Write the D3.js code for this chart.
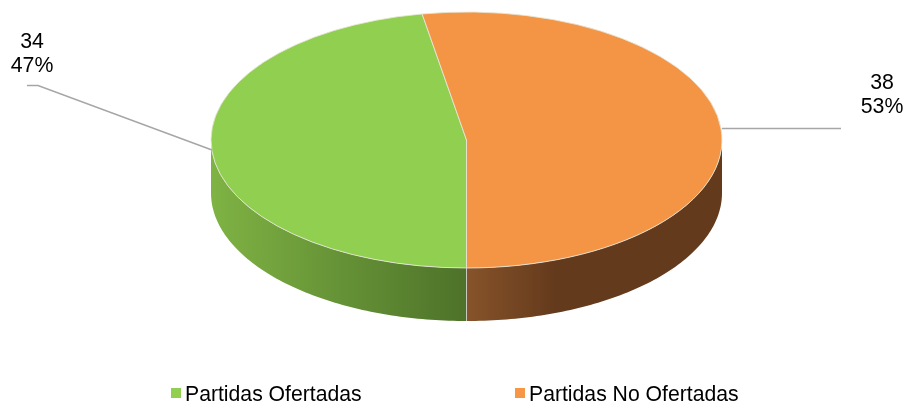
<!DOCTYPE html>
<html><head><meta charset="utf-8">
<script src="https://cdn.jsdelivr.net/npm/d3@7"></script>
<style>html,body{margin:0;background:#fff}svg{display:block;filter:blur(0.4px)}text{font-family:"Liberation Sans",Arial,sans-serif;fill:#000}</style>
</head><body><svg id="c" width="908" height="405"></svg>
<script>
const categories = ["Partidas Ofertadas", "Partidas No Ofertadas"];
const values = [34, 38];
const percents = ["47%", "53%"];
const topColors = ["#91cf50", "#f49546"];
const legendColors = ["#91cf50", "#f79646"];
const sideStops = [
  [["0%", "#7fb344"], ["100%", "#4d7229"]],
  [["0%", "#87532a"], ["35%", "#643a1c"], ["100%", "#643a1c"]]
];

const W = 908, cx = 466.5, cy = 140, rx = 255.5, ry = 128, depth = 53;
const svg = d3.select("#c");
const defs = svg.append("defs");

const pie = d3.pie().sort(null).startAngle(Math.PI).endAngle(3 * Math.PI);
const arcs = pie(values);
const px = a => cx + rx * Math.sin(a);
const py = a => cy - ry * Math.cos(a);

// visible front rim, each slice clipped to the lower half of the ellipse
const line = d3.line();
const rimPath = (a0, a1) => {
  const n = 90, s = d3.range(n + 1).map(i => a0 + (a1 - a0) * i / n);
  const upper = s.map(a => [px(a), py(a)]);
  const lower = s.slice().reverse().map(a => [px(a), py(a) + depth]);
  return line(upper.concat(lower)) + "Z";
};
const rims = [[Math.PI, 1.5 * Math.PI], [Math.PI / 2, Math.PI]];
rims.forEach((r, i) => {
  const xs = [px(r[0]), px(r[1])];
  const g = defs.append("linearGradient").attr("id", "side" + i)
    .attr("gradientUnits", "userSpaceOnUse").attr("y1", 0).attr("y2", 0)
    .attr("x1", i === 0 ? Math.min(...xs) : cx).attr("x2", i === 0 ? cx : Math.max(...xs));
  sideStops[i].forEach(st => g.append("stop").attr("offset", st[0]).attr("stop-color", st[1]));
  svg.append("path").attr("d", rimPath(r[0], r[1])).attr("fill", `url(#side${i})`);
});
// seam of the two rim segments
svg.append("line").attr("x1", cx).attr("x2", cx).attr("y1", cy + ry).attr("y2", cy + ry + depth)
  .attr("stroke", "#d9d9d9").attr("stroke-opacity", 0.8).attr("stroke-width", 1);

// top face
const arcGen = d3.arc().innerRadius(0).outerRadius(rx);
svg.append("g").attr("transform", `translate(${cx},${cy}) scale(1,${ry / rx})`)
  .selectAll("path").data(arcs).join("path")
  .attr("d", arcGen)
  .attr("fill", (d, i) => topColors[i])
  .attr("stroke", "#e6e6d8").attr("stroke-opacity", 0.85).attr("stroke-width", 1)
  .attr("stroke-linejoin", "round")
  .attr("vector-effect", "non-scaling-stroke");

// leader lines
const leaders = [[[27, 85.5], [38, 85.5], [px(Math.PI * 1.5) + 1, 150]], [[px(Math.PI / 2), 128.5], [841, 128.5]]];
svg.selectAll("path.leader").data(leaders).join("path").attr("class", "leader")
  .attr("d", line).attr("fill", "none").attr("stroke", "#a6a6a6").attr("stroke-width", 1.5);

// data labels
const labelPos = [[32, 48, 72], [882, 89, 113]];
arcs.forEach((d, i) => {
  const [x, y1, y2] = labelPos[i];
  svg.append("text").attr("x", x).attr("y", y1).attr("text-anchor", "middle").attr("font-size", 21.3).text(d.value);
  svg.append("text").attr("x", x).attr("y", y2).attr("text-anchor", "middle").attr("font-size", 21.3).text(percents[i]);
});

// legend
const legendX = d3.scaleOrdinal().domain(categories).range([171, 515]);
const leg = svg.selectAll("g.leg").data(categories).join("g").attr("class", "leg")
  .attr("transform", d => `translate(${legendX(d)},388)`);
leg.append("rect").attr("width", 10).attr("height", 10).attr("fill", (d, i) => legendColors[i]);
leg.append("text").attr("x", 14).attr("y", 12.5).attr("font-size", 21.2).text(d => d);
</script></body></html>
